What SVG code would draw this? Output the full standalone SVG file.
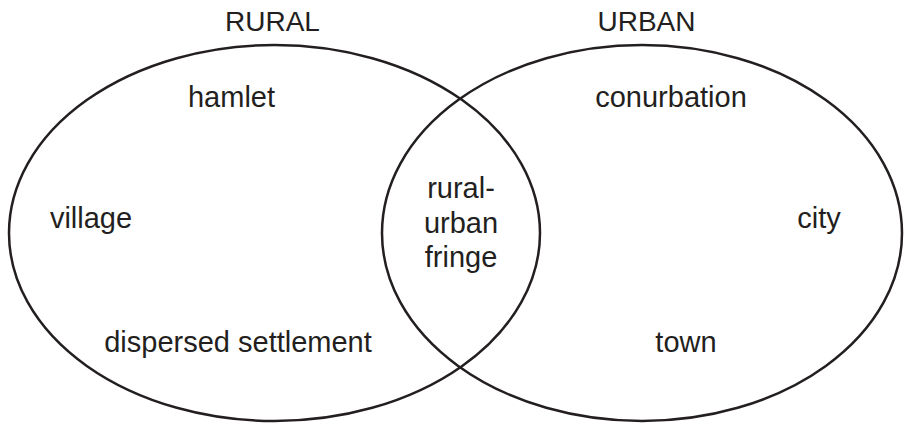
<svg xmlns="http://www.w3.org/2000/svg" width="904" height="426" viewBox="0 0 904 426">
<style>
.c{fill:none;stroke:#231f20;stroke-width:2.5}
text{font-family:"Liberation Sans",Arial,sans-serif;font-size:29px;fill:#231f20;text-anchor:middle}
.t{font-size:28px}
</style>
<rect width="904" height="426" fill="#fff"/>
<g id="rural">
<ellipse class="c" cx="274.5" cy="233" rx="265.5" ry="188"/>
<text class="t" x="272.5" y="31">RURAL</text>
</g>
<g id="urban">
<ellipse class="c" cx="642" cy="233" rx="260" ry="188"/>
<text class="t" x="646.5" y="31">URBAN</text>
</g>
<g id="hamlet"><text x="231.5" y="107">hamlet</text></g>
<g id="village"><text x="91" y="228">village</text></g>
<g id="dispersed"><text x="238" y="352">dispersed settlement</text></g>
<g id="conurbation"><text x="671" y="107">conurbation</text></g>
<g id="city"><text x="819" y="228">city</text></g>
<g id="town"><text x="686" y="352">town</text></g>
<g id="fringe">
<text x="461" y="198">rural-</text>
<text x="461" y="233">urban</text>
<text x="461" y="267">fringe</text>
</g>
<g id="connectors"/>
</svg>
